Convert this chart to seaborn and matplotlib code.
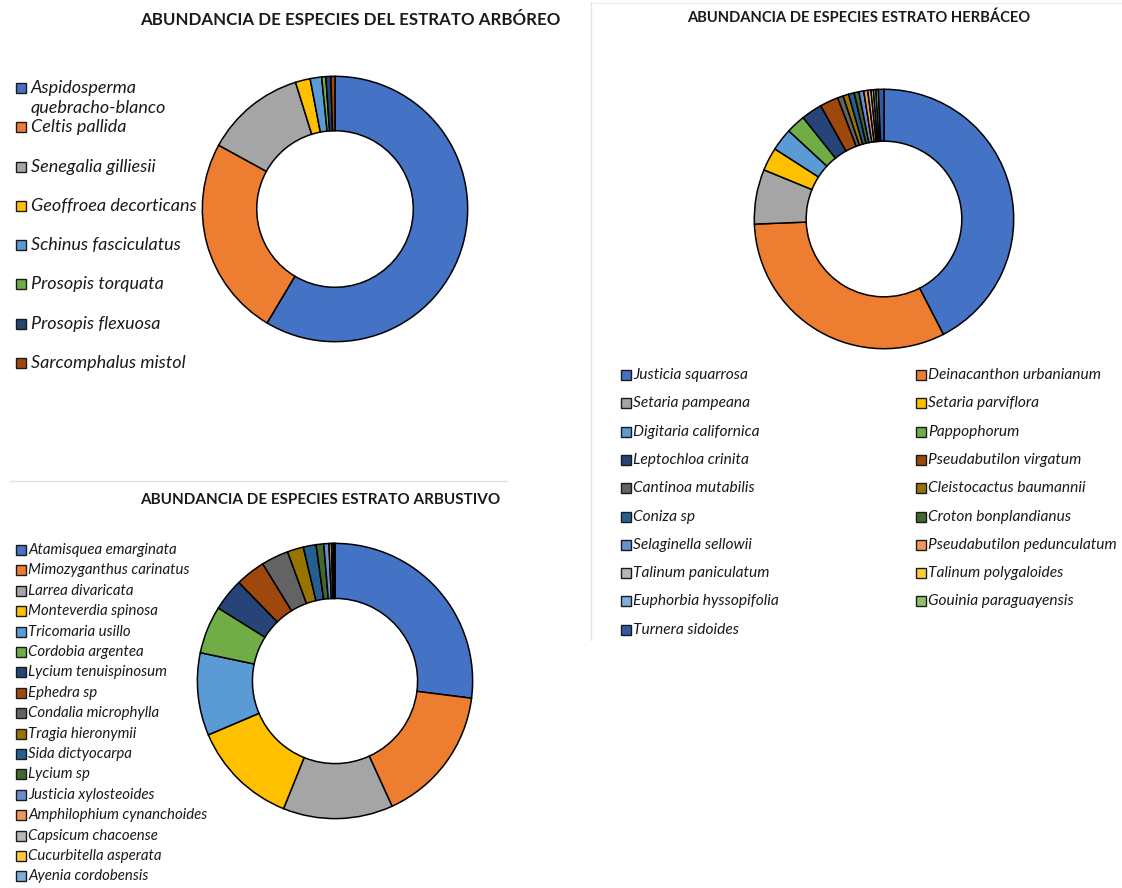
import matplotlib
matplotlib.use("Agg")
import matplotlib.pyplot as plt
import seaborn as sns
from matplotlib.patches import Rectangle
from matplotlib.lines import Line2D

sns.set_theme(style="white")
plt.rcParams['font.family'] = ['Lato', 'DejaVu Sans']

# ---------------- data ----------------
arboreo_species = ["Aspidosperma\nquebracho-blanco", "Celtis pallida", "Senegalia gilliesii",
                   "Geoffroea decorticans", "Schinus fasciculatus", "Prosopis torquata",
                   "Prosopis flexuosa", "Sarcomphalus mistol"]
arboreo_values = [58.5, 24.4, 12.2, 1.8, 1.4, 0.5, 0.6, 0.5]

herbaceo_species = ["Justicia squarrosa", "Deinacanthon urbanianum", "Setaria pampeana",
                    "Setaria parviflora", "Digitaria californica", "Pappophorum",
                    "Leptochloa crinita", "Pseudabutilon virgatum", "Cantinoa mutabilis",
                    "Cleistocactus baumannii", "Coniza sp", "Croton bonplandianus",
                    "Selaginella sellowii", "Pseudabutilon pedunculatum", "Talinum paniculatum",
                    "Talinum polygaloides", "Euphorbia hyssopifolia", "Gouinia paraguayensis",
                    "Turnera sidoides"]
herbaceo_values = [42.4, 31.9, 6.8, 2.9, 2.8, 2.4, 2.6, 2.3, 0.7, 0.7, 0.7, 0.6,
                   0.6, 0.5, 0.4, 0.3, 0.3, 0.3, 0.7]

arbustivo_species = ["Atamisquea emarginata", "Mimozyganthus carinatus", "Larrea divaricata",
                     "Monteverdia spinosa", "Tricomaria usillo", "Cordobia argentea",
                     "Lycium tenuispinosum", "Ephedra sp", "Condalia microphylla",
                     "Tragia hieronymii", "Sida dictyocarpa", "Lycium sp",
                     "Justicia xylosteoides", "Amphilophium cynanchoides", "Capsicum chacoense",
                     "Cucurbitella asperata", "Ayenia cordobensis"]
arbustivo_values = [27.0, 16.2, 12.9, 12.5, 9.7, 5.6, 3.8, 3.5, 3.2, 1.9, 1.5, 0.9,
                    0.6, 0.3, 0.2, 0.1, 0.1]

titles = ["ABUNDANCIA DE ESPECIES DEL ESTRATO ARBÓREO",
          "ABUNDANCIA DE ESPECIES ESTRATO HERBÁCEO",
          "ABUNDANCIA DE ESPECIES ESTRATO ARBUSTIVO"]

office_hex = ["#4472C4", "#ED7D31", "#A5A5A5", "#FFC000", "#5B9BD5", "#70AD47",
              "#264478", "#9E480E", "#636363", "#997300", "#255E91", "#43682B",
              "#698ED0", "#F1975A", "#B7B7B7", "#FFCD33", "#7CAFDD", "#8CC168",
              "#335AA1"]
palette = sns.color_palette(office_hex)

W, H = 1122, 888
fig = plt.figure(figsize=(W / 100, H / 100), dpi=100)
fig.patch.set_facecolor("white")


def fx(x):
    return x / W


def fy(y):
    return 1 - y / H


def donut(cx, cy, r, values, width):
    ax = fig.add_axes([fx(cx - r), fy(cy + r), 2 * r / W, 2 * r / H])
    ax.pie(values, colors=palette[:len(values)], startangle=90, counterclock=False,
           wedgeprops=dict(width=width, edgecolor="black", linewidth=1.1))
    ax.set_xlim(-1.01, 1.01)
    ax.set_ylim(-1.01, 1.01)
    ax.set_axis_off()
    return ax


def legend(entries, x0, y0, dy, size_px, fontsize, text_dx, ncol=1, col_dx=0):
    for i, lab in enumerate(entries):
        col = i % ncol
        row = i // ncol
        x = x0 + col * col_dx
        y = y0 + row * dy
        fig.patches.append(Rectangle((fx(x), fy(y + size_px / 2)), size_px / W, size_px / H,
                                     transform=fig.transFigure, facecolor=palette[i],
                                     edgecolor="#1a1a1a", linewidth=1.0))
        lines = lab.split("\n")
        for k, ln in enumerate(lines):
            fig.text(fx(x + text_dx), fy(y + k * 20), ln, fontsize=fontsize, style="italic",
                     color="#1a1a1a", va="center", ha="left")


# panel separators (faint)
fig.add_artist(Line2D([fx(591), fx(591)], [fy(2), fy(640)], transform=fig.transFigure,
                      color="#e6e6e6", linewidth=1))
fig.add_artist(Line2D([fx(592), fx(1122)], [fy(3), fy(3)], transform=fig.transFigure,
                      color="#eeeeee", linewidth=1))
fig.add_artist(Line2D([fx(10), fx(507)], [fy(481), fy(481)], transform=fig.transFigure,
                      color="#e0e0e0", linewidth=1))

# titles
fig.text(fx(350), fy(20), titles[0], fontsize=12.2, fontweight="bold", ha="center", va="center",
         color="#1a1a1a")
fig.text(fx(859), fy(18), titles[1], fontsize=10.6, fontweight="bold", ha="center", va="center",
         color="#1a1a1a")
fig.text(fx(320), fy(500), titles[2], fontsize=11, fontweight="bold", ha="center", va="center",
         color="#1a1a1a")

# donuts
donut(335, 209, 134, arboreo_values, 0.41)
donut(884, 219, 131, herbaceo_values, 0.40)
donut(335, 681, 139, arbustivo_values, 0.40)

# legends
legend(arboreo_species, 16, 88, 39.3, 10, 13, 15)
legend(herbaceo_species, 621, 375, 28.3, 10, 11.2, 12, ncol=2, col_dx=295)
legend(arbustivo_species, 16, 550, 20.4, 10, 10.8, 12)

fig.savefig("out.png", dpi=100, facecolor="white")
